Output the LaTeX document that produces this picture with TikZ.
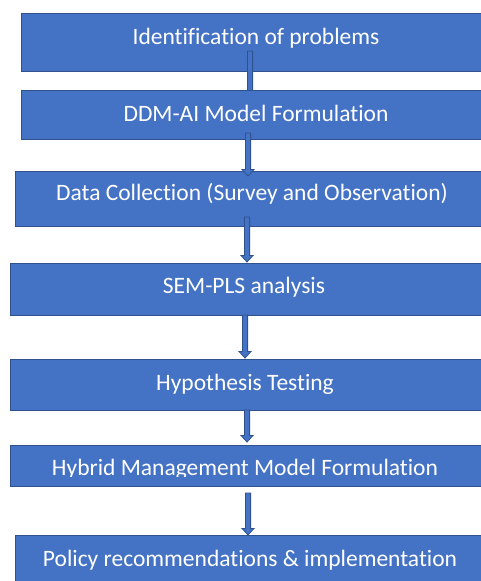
\documentclass[tikz,border=0pt]{standalone}
\usepackage{fontspec}
\setmainfont[Ligatures=NoCommon]{Carlito}
\usetikzlibrary{calc}
\definecolor{blu}{HTML}{4472C4}
\definecolor{bdr}{HTML}{2F528F}
\tikzset{
  box/.style={draw=bdr, fill=blu, line width=0.9pt, inner sep=0pt, outer sep=0pt, anchor=north west},
  lbl/.style={text=white, inner sep=0pt, anchor=base, font=\fontsize{23.5}{28}\selectfont},
  blockarr/.style={draw=bdr, fill=blu, line width=0.8pt,
    to path={let \p1=(\tikztostart), \p2=(\tikztotarget) in
      (\x1-2.6pt,\y1) -- (\x1+2.6pt,\y1) -- (\x1+2.6pt,\y2+6.5pt) -- (\x1+6pt,\y2+6.5pt)
      -- (\x1,\y2) -- (\x1-6pt,\y2+6.5pt) -- (\x1-2.6pt,\y2+6.5pt) -- cycle}}
}
\begin{document}
\begin{tikzpicture}[x=1pt, y=-1pt]
\useasboundingbox (0,0) rectangle (481,581);
\fill[white] (0,0) rectangle (481,581);

% step 1
\node[box, minimum width=464pt, minimum height=58pt] (b1) at (21,13) {};
\node[lbl] (l1) at (256,44) {Identification of problems};
\coordinate (s1) at (250,51);
\coordinate (t1) at (250,97);
\path[blockarr] (s1) to (t1);

% step 2
\node[box, minimum width=464pt, minimum height=49pt] (b2) at (21,90) {};
\node[lbl] (l2) at (256,121.7) {DDM-AI Model Formulation};

% step 3
\node[box, minimum width=470pt, minimum height=55pt] (b3) at (15,171) {};
\node[lbl] (l3) at (252,200.5) {Data Collection (Survey and Observation)};

% step 4
\node[box, minimum width=475pt, minimum height=52pt] (b4) at (10,263) {};
\node[lbl] (l4) at (244,293) {SEM-PLS analysis};

% step 5
\node[box, minimum width=475pt, minimum height=51pt] (b5) at (10,359) {};
\node[lbl] (l5) at (245,390) {Hypothesis Testing};

% step 6 (label clipped at its text frame)
\node[box, minimum width=475pt, minimum height=41pt] (b6) at (10,445) {};
\begin{scope}
  \clip (0,445) rectangle (481,476);
  \node[lbl] (l6) at (245,475) {Hybrid Management Model Formulation};
\end{scope}

% step 7
\node[box, minimum width=470pt, minimum height=50pt] (b7) at (15,535) {};
\node[lbl] (l7) at (250,566.5) {Policy recommendations \& implementation};

% connectors between the steps
\coordinate (s2) at (248,133);  \coordinate (t2) at (248,176);
\coordinate (s3) at (247,217);  \coordinate (t3) at (247,262);
\coordinate (s4) at (245,315);  \coordinate (t4) at (245,358);
\coordinate (s5) at (247,410);  \coordinate (t5) at (247,442);
\coordinate (s6) at (248,493);  \coordinate (t6) at (248,535);
\path[blockarr] (s2) to (t2);
\path[blockarr] (s3) to (t3);
\path[blockarr] (s4) to (t4);
\path[blockarr] (s5) to (t5);
\path[blockarr] (s6) to (t6);
\end{tikzpicture}
\end{document}
